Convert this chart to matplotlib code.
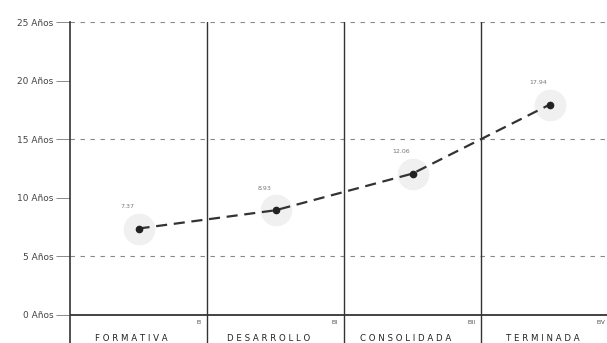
import numpy as np
import matplotlib.pyplot as plt

# =====================================================
# DATA
# =====================================================

stages = ["FORMATIVA", "DESARROLLO", "CONSOLIDADA", "TERMINADA"]
stage_codes = ["EI", "EII", "EIII", "EIV"]
years = [7.37, 8.93, 12.06, 17.94]
value_labels = ["7.37", "8.93", "12.06", "17.94"]

tick_values = [0, 5, 10, 15, 20, 25]
tick_labels = ["0 Años", "5 Años", "10 Años", "15 Años", "20 Años", "25 Años"]
dashed_levels = [5, 15, 25]

# =====================================================
# FIGURE
# =====================================================

W, H = 607, 343
fig = plt.figure(figsize=(W / 100, H / 100), dpi=100)

# axes spans from left spine (x=70) to right edge, top line y=22 to bottom
ax = fig.add_axes([70 / W, 0, 1 - 70 / W, 1 - 22 / H])

x = np.arange(len(stages)) + 0.5
x_max = (W - 70) / 137

ax.set_xlim(0, x_max)
ax.set_ylim(-2.4, 25)

# horizontal dashed guides
for lvl in dashed_levels:
    ax.axhline(lvl, color="#888888", lw=0.8, ls=(0, (4, 5)), zorder=1)

# zero line
ax.axhline(0, color="#222222", lw=1.2, zorder=2)

# column separators
for i in range(1, len(stages) + 1):
    ax.axvline(i, color="#333333", lw=1.0, zorder=2)

# faint halos round points
ax.scatter(x, years, s=520, color="#f0f0f0", zorder=3, lw=0)

ax.plot(
    x,
    years,
    color="#333333",
    lw=1.6,
    ls=(0, (5, 3)),
    marker="o",
    markersize=4.5,
    markerfacecolor="#222222",
    markeredgecolor="#222222",
    zorder=4,
)

for xi, yi, lab in zip(x, years, value_labels):
    ax.text(xi - 0.08, yi + 1.9, lab, fontsize=4.5, color="#777777",
            ha="center", va="center")

# stage names and codes below the zero line
for i, (name, code) in enumerate(zip(stages, stage_codes)):
    ax.text(i + 0.45, -2.0, " ".join(name), fontsize=6.2,
            color="#222222", ha="center", va="center")
    ax.text(min(i + 0.96, x_max - 0.01), -0.65, code, fontsize=4,
            color="#444444", ha="right", va="center")

ax.set_yticks(tick_values)
ax.set_yticklabels(tick_labels, fontsize=6.5, color="#444444")
ax.tick_params(axis="y", direction="out", length=10, width=0.6,
               color="#777777", pad=2)
ax.set_xticks([])

for side in ["top", "right", "bottom"]:
    ax.spines[side].set_visible(False)
ax.spines["left"].set_color("#333333")
ax.spines["left"].set_linewidth(1.2)

fig.savefig("out.png", dpi=100)
